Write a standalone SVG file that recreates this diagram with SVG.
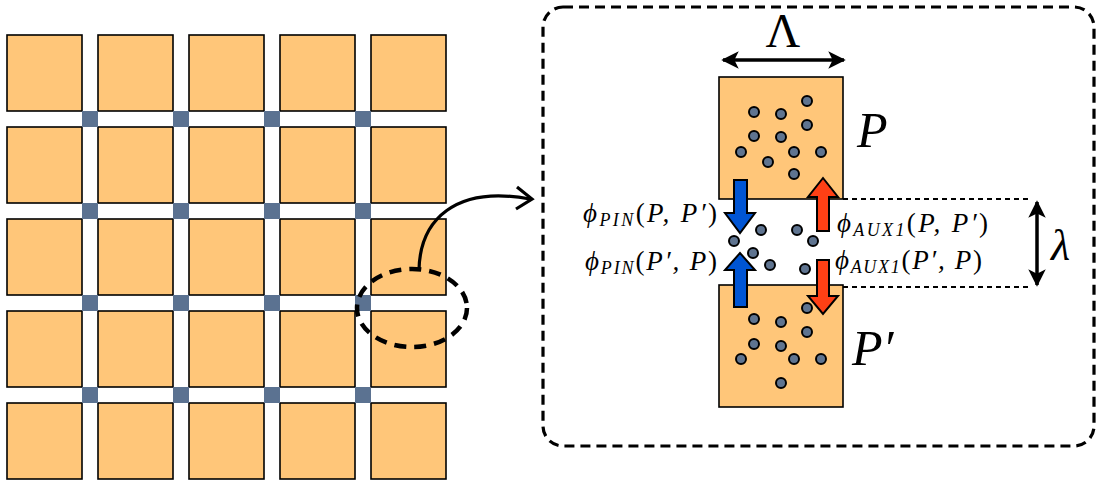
<svg xmlns="http://www.w3.org/2000/svg" width="1099" height="483" viewBox="0 0 1099 483">
  <style>
    .cell { fill: #FFC679; stroke: #000; stroke-width: 1.6; }
    .via { fill: #5B7291; }
    .box { fill: #FFC679; stroke: #000; stroke-width: 1.6; }
    .dot { fill: #5F7490; stroke: #000; stroke-width: 2; }
    .blue { fill: #0055D4; stroke: #000; stroke-width: 2; stroke-linejoin: miter; }
    .red { fill: #FF4015; stroke: #000; stroke-width: 2; stroke-linejoin: miter; }
    .math { font-family: "Liberation Serif", "DejaVu Serif", serif; font-style: italic; fill: #000; }
    .flux { font-family: "Liberation Serif", "DejaVu Serif", serif; font-style: italic; font-size: 27px; fill: #000; }
    .sub { font-size: 18px; }
    .upright { font-family: "Liberation Serif", "DejaVu Serif", serif; fill: #000; }
    .thin-dash { fill: none; stroke: #000; stroke-width: 2; stroke-dasharray: 5 4; }
  </style>
  <defs>
    <marker id="head" viewBox="0 0 10 10" refX="9" refY="5" markerWidth="5" markerHeight="5" orient="auto-start-reverse" markerUnits="strokeWidth">
      <path d="M0,0 L10,5 L0,10 L2.5,5 Z" fill="#000"/>
    </marker>
  </defs>

  <!-- chip lattice: 5x5 cells with junctions -->
  <g id="lattice">
    <g id="cells">
      <rect class="cell" x="7" y="35" width="75" height="76"/>
      <rect class="cell" x="98" y="35" width="75" height="76"/>
      <rect class="cell" x="189" y="35" width="75" height="76"/>
      <rect class="cell" x="280" y="35" width="75" height="76"/>
      <rect class="cell" x="371" y="35" width="75" height="76"/>
      <rect class="cell" x="7" y="127" width="75" height="76"/>
      <rect class="cell" x="98" y="127" width="75" height="76"/>
      <rect class="cell" x="189" y="127" width="75" height="76"/>
      <rect class="cell" x="280" y="127" width="75" height="76"/>
      <rect class="cell" x="371" y="127" width="75" height="76"/>
      <rect class="cell" x="7" y="219" width="75" height="76"/>
      <rect class="cell" x="98" y="219" width="75" height="76"/>
      <rect class="cell" x="189" y="219" width="75" height="76"/>
      <rect class="cell" x="280" y="219" width="75" height="76"/>
      <rect class="cell" x="371" y="219" width="75" height="76"/>
      <rect class="cell" x="7" y="311" width="75" height="76"/>
      <rect class="cell" x="98" y="311" width="75" height="76"/>
      <rect class="cell" x="189" y="311" width="75" height="76"/>
      <rect class="cell" x="280" y="311" width="75" height="76"/>
      <rect class="cell" x="371" y="311" width="75" height="76"/>
      <rect class="cell" x="7" y="403" width="75" height="76"/>
      <rect class="cell" x="98" y="403" width="75" height="76"/>
      <rect class="cell" x="189" y="403" width="75" height="76"/>
      <rect class="cell" x="280" y="403" width="75" height="76"/>
      <rect class="cell" x="371" y="403" width="75" height="76"/>
    </g>
    <g id="junctions">
      <rect class="via" x="82" y="111" width="16" height="16"/>
      <rect class="via" x="173" y="111" width="16" height="16"/>
      <rect class="via" x="264" y="111" width="16" height="16"/>
      <rect class="via" x="355" y="111" width="16" height="16"/>
      <rect class="via" x="82" y="203" width="16" height="16"/>
      <rect class="via" x="173" y="203" width="16" height="16"/>
      <rect class="via" x="264" y="203" width="16" height="16"/>
      <rect class="via" x="355" y="203" width="16" height="16"/>
      <rect class="via" x="82" y="295" width="16" height="16"/>
      <rect class="via" x="173" y="295" width="16" height="16"/>
      <rect class="via" x="264" y="295" width="16" height="16"/>
      <rect class="via" x="355" y="295" width="16" height="16"/>
      <rect class="via" x="82" y="387" width="16" height="16"/>
      <rect class="via" x="173" y="387" width="16" height="16"/>
      <rect class="via" x="264" y="387" width="16" height="16"/>
      <rect class="via" x="355" y="387" width="16" height="16"/>
    </g>
  </g>

  <!-- highlighted region and zoom callout -->
  <g id="highlight">
    <ellipse cx="412" cy="308" rx="55" ry="39" fill="none" stroke="#000" stroke-width="4.5" stroke-dasharray="12 8"/>
  </g>

  <g id="connectors">
    <path d="M419,270 C420,220 455,185 530,199" fill="none" stroke="#000" stroke-width="3.2"/>
    <polyline points="517,187 532,199 516,209" fill="none" stroke="#000" stroke-width="3.2" stroke-linejoin="miter"/>
  </g>

  <!-- detail panel -->
  <g id="panel">
    <rect x="543" y="7" width="551" height="439" rx="20" ry="20" fill="none" stroke="#000" stroke-width="3.2" stroke-dasharray="10 6"/>
  </g>

  <!-- cell P -->
  <g id="cell-P">
    <rect class="box" x="719" y="77" width="124" height="122"/>
    <circle class="dot" cx="754" cy="112" r="5"/>
    <circle class="dot" cx="781" cy="114" r="5"/>
    <circle class="dot" cx="807" cy="101" r="5"/>
    <circle class="dot" cx="807" cy="125" r="5"/>
    <circle class="dot" cx="754" cy="136" r="5"/>
    <circle class="dot" cx="781" cy="137" r="5"/>
    <circle class="dot" cx="741" cy="152" r="5"/>
    <circle class="dot" cx="794" cy="152" r="5"/>
    <circle class="dot" cx="821" cy="152" r="5"/>
    <circle class="dot" cx="768" cy="162" r="5"/>
    <circle class="dot" cx="794" cy="174" r="5"/>
    <text class="math" x="857" y="147" font-size="50">P</text>
  </g>

  <!-- cell P' -->
  <g id="cell-Pprime">
    <rect class="box" x="719" y="285" width="124" height="122"/>
    <circle class="dot" cx="807" cy="308" r="5"/>
    <circle class="dot" cx="754" cy="319" r="5"/>
    <circle class="dot" cx="781" cy="322" r="5"/>
    <circle class="dot" cx="807" cy="332" r="5"/>
    <circle class="dot" cx="754" cy="344" r="5"/>
    <circle class="dot" cx="781" cy="346" r="5"/>
    <circle class="dot" cx="741" cy="359" r="5"/>
    <circle class="dot" cx="794" cy="359" r="5"/>
    <circle class="dot" cx="821" cy="359" r="5"/>
    <circle class="dot" cx="781" cy="383" r="5"/>
    <text class="math" x="852" y="365" font-size="50">P′</text>
  </g>

  <!-- particles in the gap -->
  <g id="gap-particles">
    <circle class="dot" cx="734" cy="241" r="5"/>
    <circle class="dot" cx="761" cy="230" r="5"/>
    <circle class="dot" cx="753" cy="253" r="5"/>
    <circle class="dot" cx="770" cy="265" r="5"/>
    <circle class="dot" cx="797" cy="230" r="5"/>
    <circle class="dot" cx="813" cy="241" r="5"/>
    <circle class="dot" cx="805" cy="269" r="5"/>
  </g>

  <!-- flux arrows -->
  <g id="flux-arrows">
    <path class="blue" d="M734,180 L747,180 L747,213 L755,213 L740,233 L725,213 L734,213 Z"/>
    <path class="blue" d="M734,307 L747,307 L747,270 L755,270 L740,253 L725,270 L734,270 Z"/>
    <path class="red" d="M817,231 L829,231 L829,197 L838,197 L823,178 L808,197 L817,197 Z"/>
    <path class="red" d="M817,260 L829,260 L829,296 L838,296 L823,314 L808,296 L817,296 Z"/>
  </g>

  <!-- flux labels -->
  <g id="flux-labels">
    <text class="flux" x="583" y="222" textLength="134" lengthAdjust="spacing">ϕ<tspan class="sub" dy="4">PIN</tspan><tspan dy="-4" font-style="normal">(</tspan>P, P′<tspan font-style="normal">)</tspan></text>
    <text class="flux" x="585" y="270" textLength="132" lengthAdjust="spacing">ϕ<tspan class="sub" dy="4">PIN</tspan><tspan dy="-4" font-style="normal">(</tspan>P′, P<tspan font-style="normal">)</tspan></text>
    <text class="flux" x="837" y="232" textLength="151" lengthAdjust="spacing">ϕ<tspan class="sub" dy="4">AUX1</tspan><tspan dy="-4" font-style="normal">(</tspan>P, P′<tspan font-style="normal">)</tspan></text>
    <text class="flux" x="835" y="269" textLength="147" lengthAdjust="spacing">ϕ<tspan class="sub" dy="4">AUX1</tspan><tspan dy="-4" font-style="normal">(</tspan>P′, P<tspan font-style="normal">)</tspan></text>
  </g>

  <!-- dimensions -->
  <g id="dimension-Lambda">
    <line x1="723" y1="60" x2="844" y2="60" stroke="#000" stroke-width="3.5" marker-start="url(#head)" marker-end="url(#head)"/>
    <text class="upright" x="783" y="47" font-size="48" text-anchor="middle">Λ</text>
  </g>
  <g id="dimension-lambda">
    <line class="thin-dash" x1="843" y1="199" x2="1028" y2="199"/>
    <line class="thin-dash" x1="843" y1="287" x2="1028" y2="287"/>
    <line x1="1037" y1="202" x2="1037" y2="285" stroke="#000" stroke-width="3.5" marker-start="url(#head)" marker-end="url(#head)"/>
    <text class="math" x="1051" y="260" font-size="44">λ</text>
  </g>
</svg>
